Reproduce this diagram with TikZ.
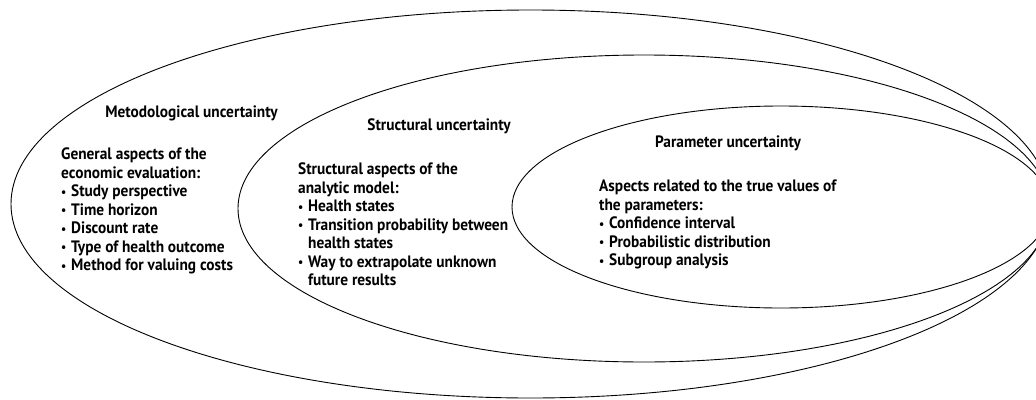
\documentclass[tikz,border=0pt]{standalone}
\usepackage{fontspec}
\setmainfont{PT Sans}[FakeStretch=0.93]
\newcommand{\bl}{\makebox[10pt][l]{\raisebox{0.5pt}{\scalebox{0.75}{\textbullet}}}}
\newcommand{\ind}{\hspace*{10pt}}
\begin{document}
\begin{tikzpicture}[x=1pt,y=-1pt,
  ell/.style={draw=black, line width=0.9pt},
  ttl/.style={font=\fontsize{16.5}{18.5}\selectfont\bfseries, inner sep=0pt, text=black},
  body/.style={font=\fontsize{16.5}{18.5}\selectfont\bfseries, inner sep=0pt, align=left, anchor=north west, text=black}]
\useasboundingbox (0,0) rectangle (1036,399);
\begin{scope}
  \clip (0,0) rectangle (1036,399);
  \draw[ell] (530.5,204) ellipse [x radius=519.5pt, y radius=194pt];
  \draw[ell] (644,208.5) ellipse [x radius=406pt, y radius=153.5pt];
  \draw[ell] (781,207) ellipse [x radius=269pt, y radius=101pt];
\end{scope}
\node[ttl, anchor=base] (mt) at (191.5,117.5) {Metodological uncertainty};
\node[ttl, anchor=base] (st) at (439,130.5) {Structural uncertainty};
\node[ttl, anchor=base] (pt) at (728,147.5) {Parameter uncertainty};
\node[body] (mb) at (61,148) {General aspects of the\\economic evaluation:\\\bl Study perspective\\\bl Time horizon\\\bl Discount rate\\\bl Type of health outcome\\\bl Method for valuing costs};
\node[body] (sb) at (298,163) {Structural aspects of the\\analytic model:\\\bl Health states\\\bl Transition probability between\\\ind health states\\\bl Way to extrapolate unknown\\\ind future results};
\node[body] (pb) at (599,180) {Aspects related to the true values of\\the parameters:\\\bl Confidence interval\\\bl Probabilistic distribution\\\bl Subgroup analysis};
\end{tikzpicture}
\end{document}
